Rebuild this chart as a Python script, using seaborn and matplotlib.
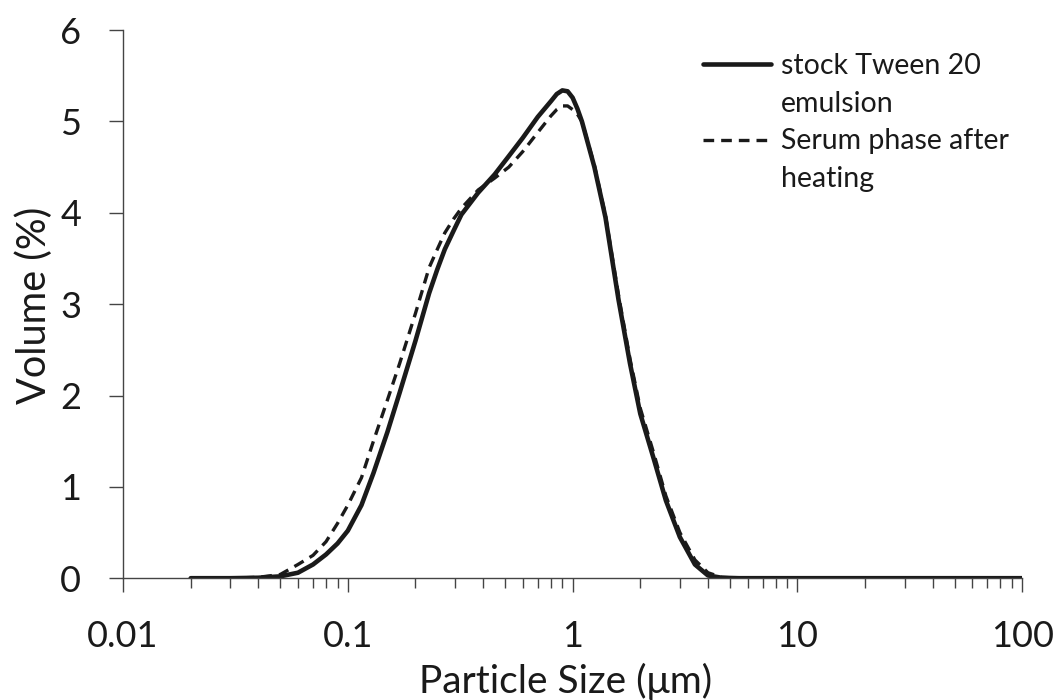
import numpy as np
import pandas as pd
import matplotlib
matplotlib.use("Agg")
import matplotlib.pyplot as plt
import seaborn as sns
from matplotlib.lines import Line2D
from matplotlib.ticker import LogLocator, FixedLocator, FixedFormatter, NullFormatter

# ---- data ----
size_um = [0.02, 0.03, 0.04, 0.05, 0.06, 0.07, 0.08, 0.09, 0.1, 0.115, 0.13, 0.15,
           0.17, 0.2, 0.23, 0.25, 0.27, 0.295, 0.32, 0.38, 0.45, 0.52, 0.6, 0.7, 0.8,
           0.85, 0.9, 0.95, 1.0, 1.05, 1.1, 1.25, 1.4, 1.6, 1.8, 2.0, 2.3, 2.6, 3.0,
           3.5, 4.0, 4.6, 5.5, 10, 100]
stock_tween20 = [0.0, 0.0, 0.005, 0.02, 0.06, 0.15, 0.26, 0.38, 0.52, 0.8, 1.15, 1.6,
                 2.03, 2.6, 3.12, 3.38, 3.6, 3.8, 3.98, 4.22, 4.42, 4.62, 4.82, 5.05, 5.22,
                 5.3, 5.34, 5.33, 5.26, 5.14, 5.0, 4.5, 3.95, 3.05, 2.35, 1.8, 1.3, 0.85, 0.45,
                 0.15, 0.03, 0.005, 0.0, 0.0, 0.0]
serum_heated = [0.0, 0.0, 0.01, 0.04, 0.15, 0.25, 0.4, 0.6, 0.8, 1.1, 1.5, 1.95,
                2.35, 2.9, 3.4, 3.6, 3.78, 3.93, 4.05, 4.25, 4.38, 4.5, 4.67, 4.88, 5.06,
                5.13, 5.17, 5.17, 5.13, 5.08, 5.0, 4.52, 3.97, 3.1, 2.4, 1.86, 1.36, 0.9, 0.5,
                0.2, 0.06, 0.01, 0.0, 0.0, 0.0]
labels = ["stock Tween 20\nemulsion", "Serum phase after\nheating"]
x_ticks = [0.01, 0.1, 1, 10, 100]
x_tick_labels = ["0.01", "0.1", "1", "10", "100"]
y_ticks = [0, 1, 2, 3, 4, 5, 6]

df = pd.DataFrame({
    "size": size_um * 2,
    "volume": stock_tween20 + serum_heated,
    "series": [labels[0]] * len(size_um) + [labels[1]] * len(size_um),
})

sns.set_style("ticks")
plt.rcParams["font.family"] = ["Lato", "DejaVu Sans"]

ink = "#1a1a1a"
dash = (3.2, 2.1)
fig = plt.figure(figsize=(10.56, 7.0), dpi=100)
ax = fig.add_axes([0.1165, 0.174, 0.8515, 0.783])

sns.lineplot(data=df[df.series == labels[0]], x="size", y="volume", color=ink,
             linewidth=3.3, ax=ax, legend=False)
sns.lineplot(data=df[df.series == labels[1]], x="size", y="volume", color=ink,
             linewidth=2.4, ax=ax, legend=False)
ax.lines[1].set_dashes(dash)
for ln in ax.lines:
    ln.set_solid_joinstyle("round")
    ln.set_dash_joinstyle("round")

ax.set_xscale("log")
ax.set_xlim(0.01, 100)
ax.set_ylim(0, 6)
ax.xaxis.set_major_locator(FixedLocator(x_ticks))
ax.xaxis.set_major_formatter(FixedFormatter(x_tick_labels))
ax.xaxis.set_minor_locator(LogLocator(base=10, subs=np.arange(2, 10)))
ax.xaxis.set_minor_formatter(NullFormatter())
ax.set_yticks(y_ticks)

for s in ["top", "right"]:
    ax.spines[s].set_visible(False)
for s in ["left", "bottom"]:
    ax.spines[s].set_color("#444444")
    ax.spines[s].set_linewidth(1.0)

ax.tick_params(axis="both", which="major", direction="out", length=10, width=1.0,
               color="#444444", labelsize=26, labelcolor=ink, pad=20)
ax.tick_params(axis="x", which="minor", direction="out", length=7, width=1.0, color="#444444")

ax.set_xlabel("Particle Size (μm)", fontsize=28, color=ink)
ax.set_ylabel("Volume (%)", fontsize=28.5, color=ink)
ax.xaxis.set_label_coords(0.492, -0.155)
ax.yaxis.set_label_coords(-0.078, 0.497)

# legend: handle aligned with first line of each label
l1 = Line2D([], [], color=ink, linewidth=3.3)
l2 = Line2D([], [], color=ink, linewidth=2.4, dashes=dash)
blank = Line2D([], [], color="none")
parts = [labels[0].split("\n"), labels[1].split("\n")]
leg = ax.legend([l1, blank, l2, blank],
                [parts[0][0], parts[0][1], parts[1][0], parts[1][1]],
                loc="upper left", bbox_to_anchor=(0.645, 0.959), frameon=False,
                fontsize=20.5, handlelength=2.4, handletextpad=0.35,
                labelspacing=0.42, borderaxespad=0, borderpad=0)
for t in leg.get_texts():
    t.set_color(ink)

fig.savefig("out.png", dpi=100, facecolor="white")
